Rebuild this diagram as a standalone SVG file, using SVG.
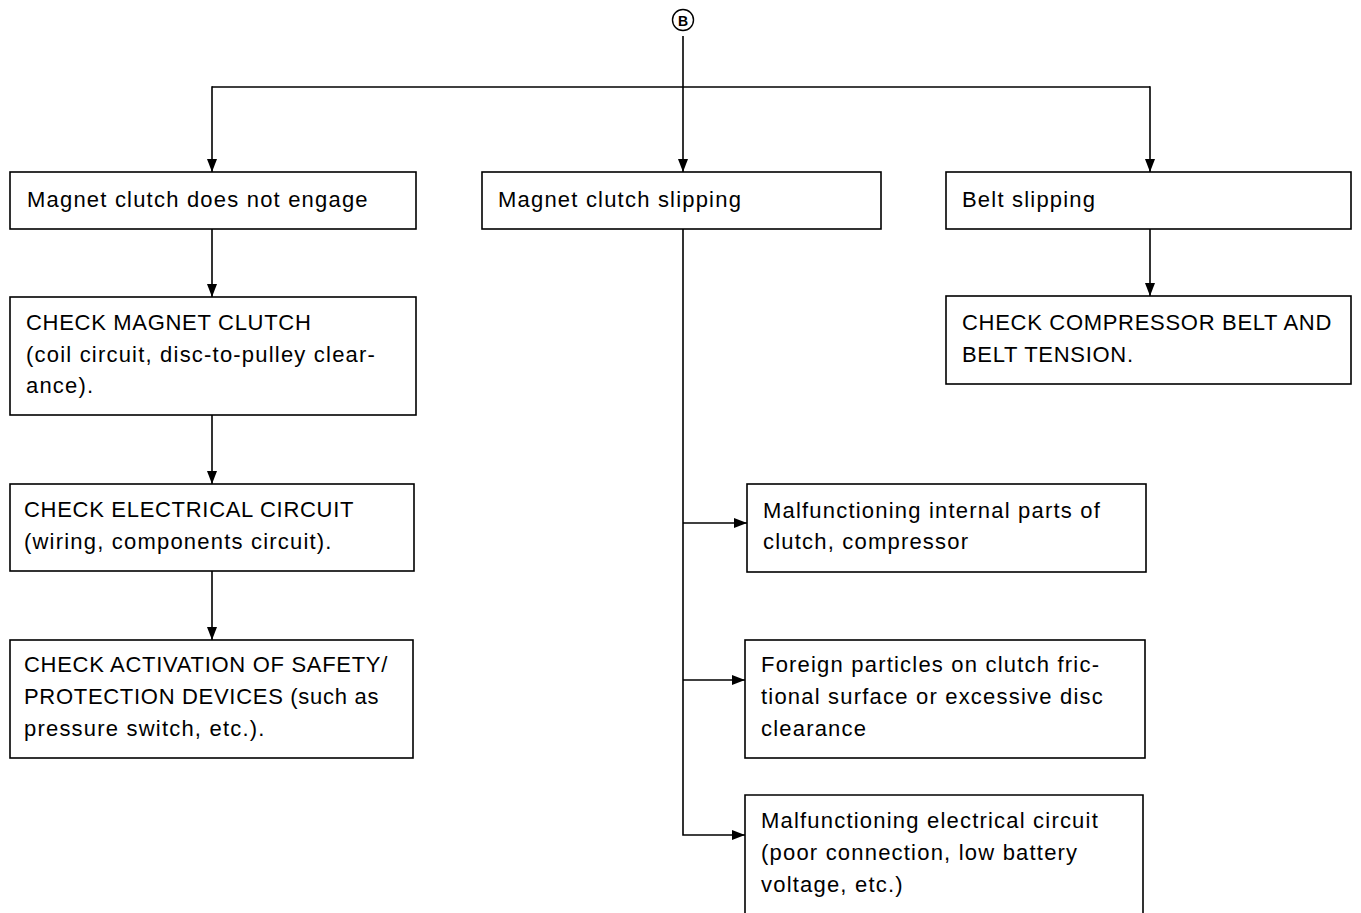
<svg xmlns="http://www.w3.org/2000/svg" width="1361" height="913" viewBox="0 0 1361 913">
<style>
.box{fill:#fff;stroke:#000;stroke-width:1.6}
.t{font-family:"Liberation Sans",Arial,sans-serif;font-size:22px;letter-spacing:1.2px;fill:#000}
.u{letter-spacing:0.7px}
.c{fill:none;stroke:#000;stroke-width:1.6}
</style>
<defs>
<marker id="ah" markerWidth="13" markerHeight="10" refX="13" refY="5" orient="auto" markerUnits="userSpaceOnUse">
<path d="M0,0 L13,5 L0,10 Z" fill="#000"/>
</marker>
</defs>
<rect width="1361" height="913" fill="#fff"/>
<g id="connectors">
<line class="c" x1="683" y1="36" x2="683" y2="172" marker-end="url(#ah)"/>
<line class="c" x1="212" y1="87" x2="1150" y2="87"/>
<line class="c" x1="212" y1="86.2" x2="212" y2="172" marker-end="url(#ah)"/>
<line class="c" x1="1150" y1="86.2" x2="1150" y2="172" marker-end="url(#ah)"/>
<line class="c" x1="212" y1="229" x2="212" y2="297" marker-end="url(#ah)"/>
<line class="c" x1="212" y1="415" x2="212" y2="484" marker-end="url(#ah)"/>
<line class="c" x1="212" y1="571" x2="212" y2="640" marker-end="url(#ah)"/>
<line class="c" x1="1150" y1="229" x2="1150" y2="296" marker-end="url(#ah)"/>
<polyline class="c" points="683,229 683,835 745,835" marker-end="url(#ah)"/>
<line class="c" x1="683" y1="523" x2="747" y2="523" marker-end="url(#ah)"/>
<line class="c" x1="683" y1="680" x2="745" y2="680" marker-end="url(#ah)"/>
</g>
<g id="nodeB">
<circle cx="683" cy="20" r="10.5" fill="#fff" stroke="#000" stroke-width="1.4"/>
<text x="683" y="25.5" text-anchor="middle" font-family="Liberation Sans,Arial,sans-serif" font-size="14" font-weight="bold">B</text>
</g>
<g id="n1"><rect class="box" x="10" y="172" width="406" height="57"/><text class="t" x="27" y="207">Magnet clutch does not engage</text></g>
<g id="n2"><rect class="box" x="482" y="172" width="399" height="57"/><text class="t" x="498" y="207">Magnet clutch slipping</text></g>
<g id="n3"><rect class="box" x="946" y="172" width="405" height="57"/><text class="t" x="962" y="207">Belt slipping</text></g>
<g id="n4"><rect class="box" x="10" y="297" width="406" height="118"/>
<text class="t u" x="26" y="330">CHECK MAGNET CLUTCH</text>
<text class="t" x="26" y="362">(coil circuit, disc-to-pulley clear-</text>
<text class="t" x="26" y="393">ance).</text></g>
<g id="n5"><rect class="box" x="10" y="484" width="404" height="87"/>
<text class="t u" x="24" y="517">CHECK ELECTRICAL CIRCUIT</text>
<text class="t" x="24" y="549">(wiring, components circuit).</text></g>
<g id="n6"><rect class="box" x="10" y="640" width="403" height="118"/>
<text class="t u" x="24" y="672">CHECK ACTIVATION OF SAFETY/</text>
<text class="t u" x="24" y="704">PROTECTION DEVICES (such as</text>
<text class="t" x="24" y="736">pressure switch, etc.).</text></g>
<g id="n7"><rect class="box" x="946" y="296" width="405" height="88"/>
<text class="t u" x="962" y="330">CHECK COMPRESSOR BELT AND</text>
<text class="t u" x="962" y="362">BELT TENSION.</text></g>
<g id="n8"><rect class="box" x="747" y="484" width="399" height="88"/>
<text class="t" x="763" y="518">Malfunctioning internal parts of</text>
<text class="t" x="763" y="549">clutch, compressor</text></g>
<g id="n9"><rect class="box" x="745" y="640" width="400" height="118"/>
<text class="t" x="761" y="672">Foreign particles on clutch fric-</text>
<text class="t" x="761" y="704">tional surface or excessive disc</text>
<text class="t" x="761" y="736">clearance</text></g>
<g id="n10"><path class="c" d="M745,913 V795 H1143 V913"/>
<text class="t" x="761" y="828">Malfunctioning electrical circuit</text>
<text class="t" x="761" y="860">(poor connection, low battery</text>
<text class="t" x="761" y="892">voltage, etc.)</text></g>
</svg>
